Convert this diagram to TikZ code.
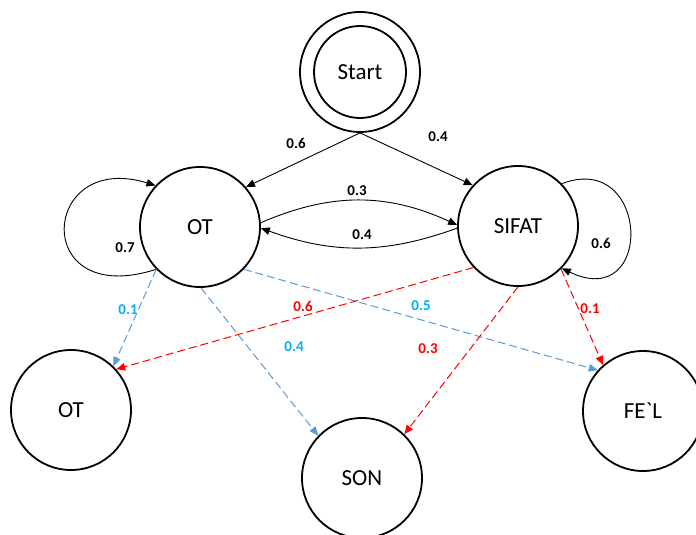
\documentclass[tikz,border=0pt]{standalone}
\usepackage{fontspec}
\setmainfont{Carlito}
\usetikzlibrary{arrows.meta}
\definecolor{lineblue}{HTML}{5B9BD5}
\definecolor{textblue}{HTML}{00B0F0}
\definecolor{linered}{HTML}{FF0000}
\begin{document}
\begin{tikzpicture}[x=1pt,y=1pt,
  state/.style={circle,draw,line width=1.8pt,minimum size=120pt,inner sep=0pt,
    font=\fontsize{23}{26}\selectfont},
  prob/.style={font=\fontsize{15}{17}\selectfont\bfseries},
  tip/.style={-{Triangle[length=9pt,width=7.5pt]}},
  solidedge/.style={tip,line width=0.9pt,black},
  blueedge/.style={tip,line width=1pt,lineblue,dash pattern=on 8pt off 4pt},
  rededge/.style={tip,line width=1pt,linered,dash pattern=on 8pt off 4pt}]
\useasboundingbox (0,0) rectangle (696,535);
\clip (0,0) rectangle (696,535);
\fill[white] (0,0) rectangle (696,535);

% states
\node[state] (start) at (360,463) {};
\node[circle,draw,line width=1.8pt,minimum size=92pt,inner sep=0pt,
  font=\fontsize{23}{26}\selectfont] (startin) at (360,463) {Start};
\node[state] (ot) at (200,308) {OT};
\node[state] (sifat) at (518,309) {SIFAT};
\node[state] (ot2) at (71,125) {OT};
\node[state] (son) at (362,57) {SON};
\node[state] (fel) at (643,124) {FE\textasciigrave L};

% transitions out of Start
\draw[solidedge] (start.south) -- (ot.41);
\draw[solidedge] (start.south) -- (sifat.138);
\node[prob] (pa) at (296,392) {0.6};
\node[prob] (pb) at (438,398) {0.4};

% OT <-> SIFAT
\draw[solidedge] (ot.4) to[bend left=24] (sifat.179);
\draw[solidedge] (sifat.182) to[bend left=20] (ot.-1);
\node[prob] (pc) at (357,344) {0.3};
\node[prob] (pd) at (362,300) {0.4};

% self loops
\draw[solidedge] (ot.224) .. controls (30,225) and (40,385) .. (ot.137);
\node[prob] (pe) at (125,287) {0.7};
\draw[solidedge] (sifat.44) .. controls (650,385) and (655,222) .. (sifat.316);
\node[prob] (pf) at (601,292) {0.6};

% emissions from OT
\draw[blueedge] (ot.224) -- (ot2.46);
\draw[blueedge] (ot.-89) -- (son.136);
\draw[blueedge] (ot.-44) -- (fel.138);
\node[prob,textblue] (pg) at (128,225) {0.1};
\node[prob,textblue] (ph) at (294,188) {0.4};
\node[prob,textblue] (pi) at (421,229) {0.5};

% emissions from SIFAT
\draw[rededge] (sifat.223) -- (ot2.42);
\draw[rededge] (sifat.-90) -- (son.46);
\draw[rededge] (sifat.-45) -- (fel.131);
\node[prob,linered] (pj) at (303,229) {0.6};
\node[prob,linered] (pk) at (428,186) {0.3};
\node[prob,linered] (pl) at (590,226) {0.1};
\end{tikzpicture}
\end{document}
